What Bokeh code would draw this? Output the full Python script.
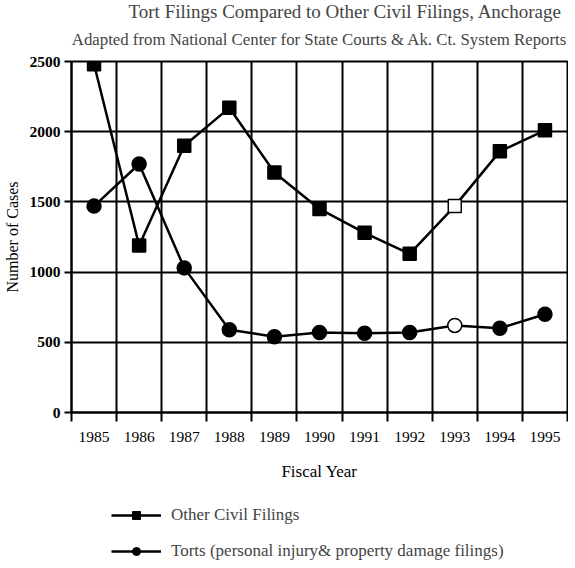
from bokeh.plotting import figure
from bokeh.layouts import column
from bokeh.models import ColumnDataSource, FixedTicker, Legend, LegendItem, Title
from bokeh.embed import file_html
from bokeh.resources import INLINE

years = ["1985", "1986", "1987", "1988", "1989", "1990", "1991", "1992", "1993", "1994", "1995"]
other_civil = [2480, 1190, 1900, 2170, 1710, 1450, 1280, 1130, 1470, 1860, 2010]
torts = [1470, 1770, 1030, 590, 540, 570, 565, 570, 620, 600, 700]
y_ticks = [0, 500, 1000, 1500, 2000, 2500]
series_names = ["Other Civil Filings", "Torts (personal injury& property damage filings)"]

FONT = "Liberation Serif"
n = len(years)
xs = list(range(1, n + 1))
bounds = [i + 0.5 for i in range(0, n + 1)]
fills = ["white" if y == "1993" else "black" for y in years]

src = ColumnDataSource(dict(x=xs, civil=other_civil, torts=torts, fill=fills))

p = figure(frame_width=496, frame_height=351, x_range=(0.5, n + 0.5), y_range=(0, 2500),
           output_backend="svg", toolbar_location=None,
           min_border_left=0, min_border_right=1, min_border_top=0, min_border_bottom=0)

p.add_layout(Title(text="Adapted from National Center for State Courts & Ak. Ct. System Reports",
                   text_font=FONT, text_font_size="16.8px", text_font_style="normal",
                   align="center", vertical_align="top", standoff=21), "above")
p.add_layout(Title(text="Tort Filings Compared to Other Civil Filings, Anchorage",
                   text_font=FONT, text_font_size="19px", text_font_style="normal",
                   align="left", offset=57, standoff=-4), "above")

p.line("x", "civil", source=src, line_color="black", line_width=2.5)
p.scatter("x", "civil", source=src, marker="square", size=13,
          fill_color="fill", line_color="black", line_width=1.5)
p.line("x", "torts", source=src, line_color="black", line_width=2.5)
p.scatter("x", "torts", source=src, marker="circle", size=14,
          fill_color="fill", line_color="black", line_width=1.5)

# axes
p.xaxis.ticker = FixedTicker(ticks=xs, minor_ticks=bounds)
p.xaxis.major_label_overrides = {x: y for x, y in zip(xs, years)}
p.xaxis.major_tick_out = 0
p.xaxis.major_tick_in = 0
p.xaxis.minor_tick_out = 9
p.xaxis.minor_tick_in = 0
p.xaxis.minor_tick_line_width = 2
p.xaxis.minor_tick_line_color = "black"
p.xaxis.major_label_standoff = 10
p.xaxis.axis_label = "Fiscal Year"
p.xaxis.axis_label_standoff = 17

p.yaxis.ticker = FixedTicker(ticks=y_ticks)
p.yaxis.major_tick_out = 7
p.yaxis.major_tick_in = 0
p.yaxis.major_tick_line_width = 2
p.yaxis.minor_tick_line_color = None
p.yaxis.major_label_standoff = 4
p.yaxis.axis_label = "Number of Cases"
p.yaxis.axis_label_standoff = 6
p.yaxis.major_label_text_font_style = "bold"

for ax in (p.xaxis, p.yaxis):
    ax.axis_line_width = 2
    ax.axis_line_color = "black"
    ax.major_tick_line_color = "black"
    ax.major_label_text_font = FONT
    ax.major_label_text_font_size = "15.5px"
    ax.major_label_text_color = "black"
    ax.axis_label_text_font = FONT
    ax.axis_label_text_font_style = "normal"
    ax.axis_label_text_color = "black"
p.xaxis.axis_label_text_font_size = "17px"
p.yaxis.axis_label_text_font_size = "16px"

p.xgrid.ticker = FixedTicker(ticks=bounds)
for g in (p.xgrid, p.ygrid):
    g.grid_line_color = "black"
    g.grid_line_width = 2
    g.grid_line_alpha = 1.0

p.outline_line_color = "black"
p.outline_line_width = 2
p.outline_line_alpha = 1.0
p.background_fill_color = "white"
p.border_fill_color = "white"

# legend in its own strip below the chart (proxy renderers fall outside its ranges)
lg = figure(width=559, height=78, x_range=(-2, -1), y_range=(-2, -1),
            x_axis_location=None, y_axis_location=None,
            output_backend="svg", toolbar_location=None,
            min_border=0, min_border_left=0, min_border_right=0,
            min_border_top=0, min_border_bottom=0)
lg.grid.visible = False
lg.outline_line_color = None
a1 = lg.line("x", "civil", source=src, line_color="black", line_width=2.5)
b1 = lg.scatter("x", "civil", source=src, marker="square", size=13, fill_color="black", line_color="black")
a2 = lg.line("x", "torts", source=src, line_color="black", line_width=2.5)
b2 = lg.scatter("x", "torts", source=src, marker="circle", size=14, fill_color="black", line_color="black")
legend = Legend(items=[LegendItem(label=series_names[0], renderers=[a1, b1]),
                       LegendItem(label=series_names[1], renderers=[a2, b2])],
                orientation="vertical", location=(40, 0))
legend.label_text_font = FONT
legend.label_text_font_size = "17px"
legend.glyph_width = 50
legend.glyph_height = 20
legend.label_height = 20
legend.spacing = 16
legend.padding = 0
legend.margin = 0
legend.label_standoff = 10
legend.border_line_color = None
legend.background_fill_alpha = 0
lg.add_layout(legend, "center")

layout = column(p, lg, spacing=0)
open("out.html", "w").write(file_html(layout, INLINE))
